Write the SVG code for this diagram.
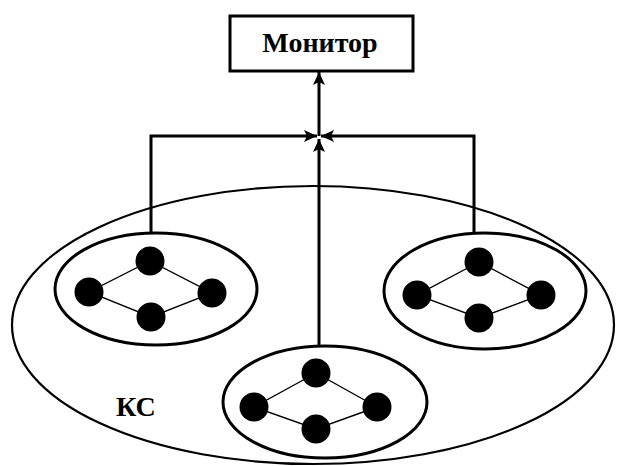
<svg xmlns="http://www.w3.org/2000/svg" width="618" height="466" viewBox="0 0 618 466">
<style>
.lbl{font-family:"Liberation Serif","Times New Roman",serif;font-weight:bold;font-size:28px;fill:#000}
.grp{fill:#fff;stroke:#000;stroke-width:3}
.edge{stroke:#000;stroke-width:1.4;fill:none}
.dot{fill:#000}
.conn{fill:none;stroke:#000;stroke-width:3}
</style>
<defs>
<marker id="arr" markerUnits="userSpaceOnUse" markerWidth="14" markerHeight="12" refX="13" refY="6" orient="auto">
<path d="M0,0 L13,6 L0,12 L3,6 Z" fill="#000"/>
</marker>
</defs>
<rect width="618" height="466" fill="#fff"/>
<g id="ks">
<ellipse cx="313" cy="325" rx="301" ry="139" fill="none" stroke="#000" stroke-width="2.2"/>
<text class="lbl" x="116" y="416">КС</text>
</g>
<g id="monitor">
<rect x="230" y="16" width="183" height="55" fill="#fff" stroke="#000" stroke-width="3"/>
<text class="lbl" x="320" y="52" text-anchor="middle">Монитор</text>
</g>
<g id="cluster-left">
<ellipse class="grp" cx="156" cy="289" rx="101" ry="56"/>
<path class="edge" d="M150,261 L89,292 L151,317 L212,293 Z"/>
<circle class="dot" cx="150" cy="261" r="14.5"/>
<circle class="dot" cx="89" cy="292" r="14.5"/>
<circle class="dot" cx="212" cy="293" r="14.5"/>
<circle class="dot" cx="151" cy="317" r="14.5"/>
</g>
<g id="cluster-right">
<ellipse class="grp" cx="485" cy="291" rx="101" ry="58"/>
<path class="edge" d="M479,262 L417,295 L479,318 L541,295 Z"/>
<circle class="dot" cx="479" cy="262" r="14.5"/>
<circle class="dot" cx="417" cy="295" r="14.5"/>
<circle class="dot" cx="541" cy="295" r="14.5"/>
<circle class="dot" cx="479" cy="318" r="14.5"/>
</g>
<g id="cluster-bottom">
<ellipse class="grp" cx="325" cy="402" rx="102" ry="56"/>
<path class="edge" d="M316,373 L254,407 L316,429 L377,407 Z"/>
<circle class="dot" cx="316" cy="373" r="14.5"/>
<circle class="dot" cx="254" cy="407" r="14.5"/>
<circle class="dot" cx="377" cy="407" r="14.5"/>
<circle class="dot" cx="316" cy="429" r="14.5"/>
</g>
<g id="connectors">
<path class="conn" d="M151,232 V136 H317" marker-end="url(#arr)"/>
<path class="conn" d="M474,233 V136 H321" marker-end="url(#arr)"/>
<path class="conn" d="M319,346 V139" marker-end="url(#arr)"/>
<path class="conn" d="M319,136 V72" marker-end="url(#arr)"/>
</g>
</svg>
